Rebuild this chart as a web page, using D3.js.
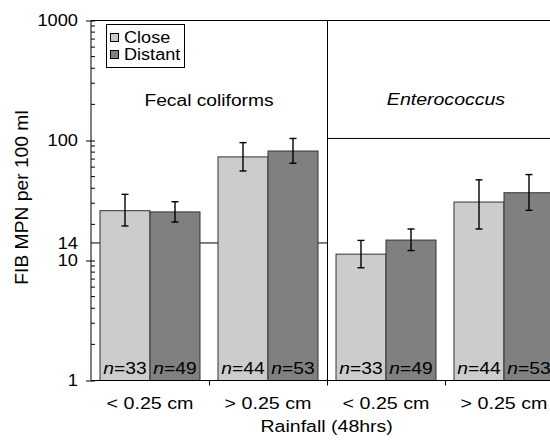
<!DOCTYPE html>
<html><head><meta charset="utf-8">
<script src="https://cdn.jsdelivr.net/npm/d3@7"></script>
<style>
body{margin:0;background:#fff;}
svg{font-family:"Liberation Sans",Arial,Helvetica,sans-serif;}
</style></head>
<body><svg id="c" width="550" height="441"></svg>
<script>
const groups = ["FC <", "FC >", "EN <", "EN >"];
const rainfall = ["< 0.25 cm", "> 0.25 cm", "< 0.25 cm", "> 0.25 cm"];
const panels = ["Fecal coliforms", "Enterococcus"];
const series = ["Close", "Distant"];
const closeMean = [26, 73, 11.3, 30.7];
const closeLow = [19.4, 55.7, 8.7, 18.3];
const closeHigh = [35.6, 96, 14.7, 47];
const distantMean = [25.4, 81.7, 14.8, 36.7];
const distantLow = [20.9, 64.6, 12.1, 26.2];
const distantHigh = [30.9, 104, 18.3, 52];
const closeN = [33, 44, 33, 44];
const distantN = [49, 53, 49, 53];
const thresholds = [14, 104];
const yTicks = [1, 10, 14, 100, 1000];
const colors = {"Close":"#cccccc","Distant":"#808080"};

(function(){
const svg = d3.select("#c");
const FS = 16;
function stretch(sel, k){
  sel.each(function(){
    const w = this.getComputedTextLength();
    d3.select(this).attr("textLength", w*k).attr("lengthAdjust","spacingAndGlyphs");
  });
}
const pL = 91, pR = 563, pT = 20.5, pB = 380.5;
const y = d3.scaleLog().domain([1,1000]).range([pB, pT]);
const x = d3.scaleBand().domain(groups).range([pL,pR]).paddingInner(18/118).paddingOuter(9/118);
const xs = d3.scaleBand().domain(series).range([0, x.bandwidth()]);
const step = x.step();

const rows = [];
groups.forEach((g,i)=>{
  rows.push({g, s:"Close", v:closeMean[i], lo:closeLow[i], hi:closeHigh[i], n:closeN[i]});
  rows.push({g, s:"Distant", v:distantMean[i], lo:distantLow[i], hi:distantHigh[i], n:distantN[i]});
});

const divX = x(groups[2]) - step*x.paddingInner()/2;
const divXr = Math.round(divX)+0.5;

// threshold lines
svg.append("line").attr("x1",pL).attr("x2",divXr).attr("y1",y(thresholds[0])).attr("y2",y(thresholds[0])).attr("stroke","#000").attr("stroke-width",1);
svg.append("line").attr("x1",divXr).attr("x2",560).attr("y1",y(thresholds[1])).attr("y2",y(thresholds[1])).attr("stroke","#000").attr("stroke-width",1);

// frame top and divider
svg.append("line").attr("x1",pL).attr("x2",560).attr("y1",pT).attr("y2",pT).attr("stroke","#000").attr("stroke-width",1);
svg.append("line").attr("x1",divXr).attr("x2",divXr).attr("y1",pT).attr("y2",pB).attr("stroke","#000").attr("stroke-width",1);

// bars
svg.selectAll("rect.bar").data(rows).join("rect").attr("class","bar")
  .attr("x",d=>x(d.g)+xs(d.s)).attr("width",xs.bandwidth())
  .attr("y",d=>y(d.v)).attr("height",d=>pB-y(d.v))
  .attr("fill",d=>colors[d.s]).attr("stroke","#333").attr("stroke-width",1);

// error bars
const eb = svg.selectAll("g.eb").data(rows).join("g").attr("class","eb")
  .attr("transform",d=>`translate(${x(d.g)+xs(d.s)+xs.bandwidth()/2},0)`);
eb.append("line").attr("y1",d=>y(d.lo)).attr("y2",d=>y(d.hi)).attr("stroke","#000").attr("stroke-width",1.4);
eb.append("line").attr("x1",-3.5).attr("x2",3.5).attr("y1",d=>y(d.lo)).attr("y2",d=>y(d.lo)).attr("stroke","#000").attr("stroke-width",1.4);
eb.append("line").attr("x1",-3.5).attr("x2",3.5).attr("y1",d=>y(d.hi)).attr("y2",d=>y(d.hi)).attr("stroke","#000").attr("stroke-width",1.4);

// n labels
const nl = svg.selectAll("text.n").data(rows).join("text").attr("class","n")
  .attr("x",d=>x(d.g)+xs(d.s)+xs.bandwidth()/2).attr("y",373.5)
  .attr("text-anchor","middle").attr("font-size",FS);
nl.append("tspan").attr("font-style","italic").text("n");
nl.append("tspan").text(d=>"=" + d.n);
stretch(nl, 1.2);

// y axis
const ya = svg.append("g").attr("transform",`translate(${pL},0)`)
  .call(d3.axisLeft(y).tickValues(yTicks).tickFormat(d3.format("d")).tickSize(5).tickPadding(8));
ya.select(".domain").attr("d",`M0,${pT}V${pB}`);
ya.selectAll(".tick text").attr("font-size",16.3).attr("font-family","Liberation Sans, Arial, sans-serif").attr("fill","#000");
stretch(ya.selectAll(".tick text"), 1.12);
ya.selectAll(".tick").filter(d=>d===14).select("line").remove();
ya.selectAll(".tick").filter(d=>d!==14).append("line").attr("x2",4).attr("stroke","#000");
const minor = [];
[1,10,100].forEach(dec=>{for(let k=2;k<=9;k++) minor.push(dec*k);});
ya.selectAll("line.minor").data(minor).join("line").attr("class","minor")
  .attr("x1",0).attr("x2",4).attr("y1",d=>y(d)).attr("y2",d=>y(d)).attr("stroke","#000");

// x axis
const xa = svg.append("g").attr("transform",`translate(0,${pB})`)
  .call(d3.axisBottom(x).tickSize(0).tickPadding(17).tickFormat((d,i)=>rainfall[i]));
xa.select(".domain").attr("d",`M${pL},0H560`);
xa.selectAll(".tick text").attr("font-size",FS).attr("font-family","Liberation Sans, Arial, sans-serif").attr("fill","#000");
stretch(xa.selectAll(".tick text"), 1.23);
const bounds = [1,2,3].map(i=>x(groups[i]) - step*x.paddingInner()/2);
xa.selectAll("line.bt").data(bounds).join("line").attr("class","bt")
  .attr("x1",d=>Math.round(d)+0.5).attr("x2",d=>Math.round(d)+0.5).attr("y1",0).attr("y2",5).attr("stroke","#000");

// panel titles
const t1 = svg.append("text").attr("x",(pL+divX)/2).attr("y",106).attr("text-anchor","middle").attr("font-size",FS).text(panels[0]);
const t2 = svg.append("text").attr("x",446).attr("y",105).attr("text-anchor","middle").attr("font-size",FS).attr("font-style","italic").text(panels[1]);
stretch(t1, 1.2); stretch(t2, 1.22);

// axis titles
const yt = svg.append("text").attr("transform","translate(28,197.5) rotate(-90)").attr("text-anchor","middle").attr("font-size",17.5).text("FIB MPN per 100 ml");
stretch(yt, 1.1);
const xt = svg.append("text").attr("x",(pL+divX+pR-10)/3 + 16).attr("y",432).attr("text-anchor","middle").attr("font-size",FS).text("Rainfall (48hrs)");
xt.attr("x", 326.7);
stretch(xt, 1.22);

// legend
const lg = svg.append("g");
lg.append("rect").attr("x",106.5).attr("y",24.5).attr("width",78).attr("height",43).attr("fill","#fff").attr("stroke","#000");
series.forEach((s,i)=>{
  lg.append("rect").attr("x",110.5).attr("y",33.5+i*17).attr("width",8).attr("height",8).attr("fill",colors[s]).attr("stroke","#000");
  const tx = lg.append("text").attr("x",124).attr("y",42.5+i*17).attr("font-size",FS).text(s);
  stretch(tx, 1.13);
});
})();
</script></body></html>
